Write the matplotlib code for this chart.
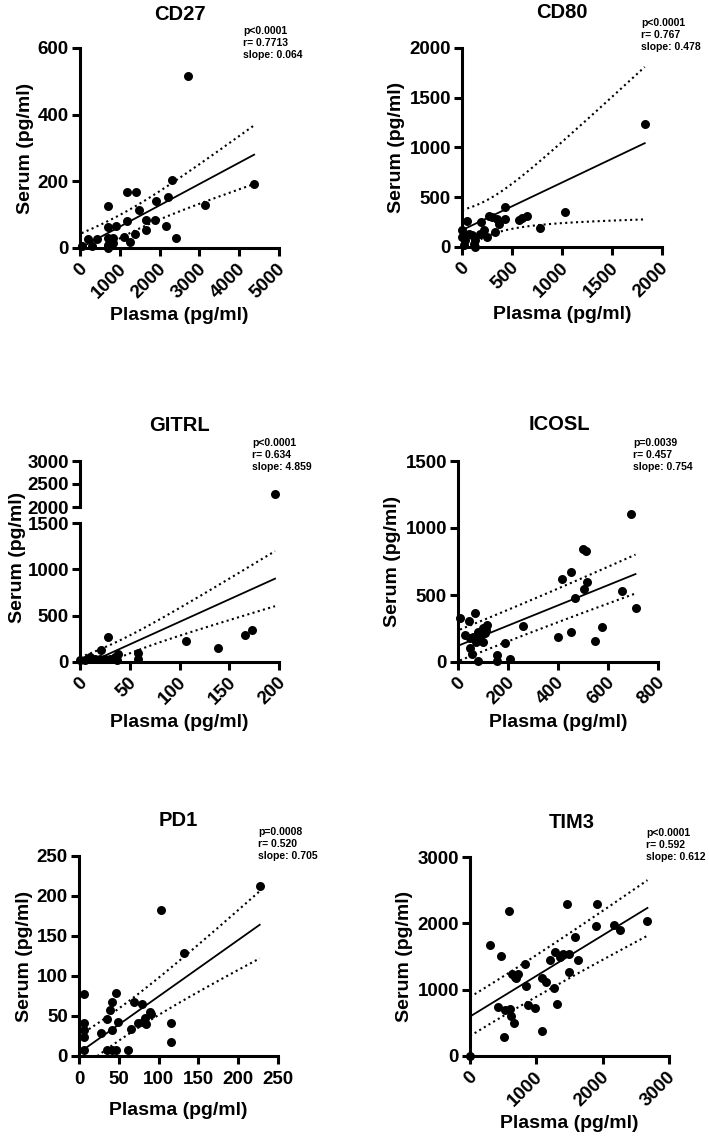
import matplotlib
matplotlib.use("Agg")
import matplotlib.pyplot as plt
import matplotlib.transforms as mtransforms
import numpy as np

plt.rcParams["font.family"] = ["Liberation Sans", "DejaVu Sans"]
plt.rcParams["font.weight"] = "bold"
plt.rcParams["axes.labelweight"] = "bold"

W, H = 709, 1143

# ---- data (plasma, serum in pg/ml) ----
cd27_plasma = [2708, 4375, 2317, 3142, 1192, 1400, 1917, 2208, 708, 1483, 1192, 1667, 1875, 1667,
               2150, 2417, 708, 917, 1375, 1100, 1267, 208, 417, 708, 833, 708, 833, 42, 292, 708]
cd27_serum = [515, 193, 204, 129, 168, 168, 140, 153, 126, 114, 82, 85, 85, 55,
              67, 31, 63, 65, 42, 34, 18, 26, 28, 30, 30, 10, 15, 5, 5, 0]

cd80_plasma = [1827, 1027, 783, 427, 433, 567, 600, 650, 267, 300, 350, 367, 193, 50, 333, 217,
               183, 250, 0, 67, 100, 0, 33, 133, 117, 133, 17]
cd80_serum = [1232, 356, 191, 403, 282, 268, 295, 309, 312, 302, 278, 235, 252, 262, 151, 168,
              134, 101, 168, 134, 117, 101, 67, 67, 34, 0, 17]

gitrl_plasma = [196, 172.5, 165.8, 139, 107, 28.5, 21, 58, 58, 38.5, 10, 15, 20, 25, 30, 35, 0, 5, 37]
gitrl_serum = [2283, 342, 288, 155, 227, 270, 133, 101, 36, 83, 54, 36, 36, 36, 36, 54, 18, 25, 18]

icosl_plasma = [690, 501, 513, 451, 415, 517, 504, 657, 466, 710, 261, 574, 398, 450, 548, 8, 42, 66,
                115, 100, 80, 60, 46, 93, 106, 113, 86, 73, 100, 27, 186, 56, 157, 206, 80, 157, 46]
icosl_serum = [1104, 845, 832, 673, 623, 598, 542, 530, 479, 403, 265, 260, 189, 222, 159, 330, 305, 366,
               277, 252, 227, 189, 176, 202, 214, 240, 164, 151, 151, 202, 144, 63, 50, 25, 8, 5, 101]

pd1_plasma = [227, 103, 132, 6.7, 47, 42, 39, 35, 48.5, 41, 27.6, 6.7, 6.7, 6.7, 69, 78.6, 91, 89,
              83, 81, 74, 84, 65, 116, 116, 6.7, 35, 41, 47, 61]
pd1_serum = [213, 182, 129, 78, 79, 67, 57, 46, 42, 32.5, 29, 41, 32, 24, 68, 65, 53, 55,
             48, 43, 41, 40, 34, 41, 17, 7, 7, 7, 7, 7]

tim3_plasma = [0, 510, 1085, 665, 625, 600, 525, 415, 875, 985, 1315, 850, 1085, 1150, 1260, 640, 675,
               725, 700, 825, 300, 465, 585, 1200, 1275, 1350, 1400, 1485, 1485, 1625, 1585, 1455,
               1915, 1900, 2165, 2260, 2675]
tim3_serum = [0, 288, 379, 500, 606, 707, 692, 732, 768, 717, 783, 1050, 1177, 1111, 1025, 1230, 1190,
              1240, 1180, 1389, 1667, 1515, 2187, 1454, 1566, 1500, 1540, 1540, 1273, 1454, 1788, 2288,
              2298, 1955, 1970, 1894, 2035]

# fitted line as printed /:
# slope, intercept, x of narrowest CI, narrowest CI half-width, CI half-width at highest plasma value
fits = {
    "CD27": (0.064, 0.0, 1000, 35, 88),
    "CD80": (0.478, 170, 200, 180, 766),
    "GITRL": (4.859, -53, 30, 90, 297),
    "ICOSL": (0.754, 121, 0, 115, 145),
    "PD1": (0.705, 4, 40, 20, 42),
    "TIM3": (0.612, 595, 0, 293, 419),
}

stats = {
    "CD27": ["p<0.0001", "r= 0.7713", "slope: 0.064"],
    "CD80": ["p<0.0001", "r= 0.767", "slope: 0.478"],
    "GITRL": ["p<0.0001", "r= 0.634", "slope: 4.859"],
    "ICOSL": ["p=0.0039", "r= 0.457", "slope: 0.754"],
    "PD1": ["p=0.0008", "r= 0.520", "slope: 0.705"],
    "TIM3": ["p<0.0001", "r= 0.592", "slope: 0.612"],
}


def px_rect(left, right, top, bottom):
    return [left / W, 1 - bottom / H, (right - left) / W, (bottom - top) / H]


def fit_lines(x, fit):
    slope, icpt, xv, h0, h1 = fit
    x = np.asarray(x, float)
    # hyperbolic confidence band: half = sqrt(h0^2 + B (x - xv)^2)
    B = (h1**2 - h0**2) / (x.max() - xv) ** 2
    xs = np.linspace(x.min(), x.max(), 200)
    yh = icpt + slope * xs
    half = np.sqrt(h0**2 + B * (xs - xv) ** 2)
    return xs, yh, yh - half, yh + half


def style(ax, show_bottom=True, xpad=2):
    for side in ("top", "right"):
        ax.spines[side].set_visible(False)
    ax.spines["left"].set_linewidth(2.2)
    ax.spines["bottom"].set_linewidth(2.2)
    if not show_bottom:
        ax.spines["bottom"].set_visible(False)
    ax.tick_params(width=2.2, length=6, labelsize=13.5, pad=2)
    ax.tick_params(axis="x", pad=xpad)
    for lab in ax.get_xticklabels() + ax.get_yticklabels():
        lab.set_fontweight("bold")


def dots(ax, x, y, ymin=-np.inf, ymax=np.inf):
    x = np.asarray(x, float)
    y = np.asarray(y, float)
    keep = (y >= ymin) & (y <= ymax)
    ax.scatter(x[keep], y[keep], s=42, color="black", zorder=3, clip_on=False, linewidths=0)


def draw(ax, x, y, fit, ymax=np.inf):
    xs, yh, lo, hi = fit_lines(x, fit)
    dots(ax, x, y, ymax=ymax)
    ax.plot(xs, yh, color="black", lw=1.3)
    for band in (lo, hi):
        ax.plot(xs, band, color="black", lw=1.5, linestyle=(0, (1, 1.6)))


def rotate_x(ax):
    shift = mtransforms.ScaledTranslation(4 / 100, 0, ax.figure.dpi_scale_trans)
    for lab in ax.get_xticklabels():
        lab.set_rotation(45)
        lab.set_ha("right")
        lab.set_va("center")
        lab.set_rotation_mode("anchor")
        lab.set_transform(lab.get_transform() + shift)


fig = plt.figure(figsize=(W / 100, H / 100), dpi=100)

panels = [
    ("CD27", cd27_plasma, cd27_serum, (80, 279, 48, 248), (0, 5000), [0, 1000, 2000, 3000, 4000, 5000],
     (0, 600), [0, 200, 400, 600], True, (243, 26)),
    ("CD80", cd80_plasma, cd80_serum, (462, 662, 48, 247), (0, 2000), [0, 500, 1000, 1500, 2000],
     (0, 2000), [0, 500, 1000, 1500, 2000], True, (641, 18)),
    ("ICOSL", icosl_plasma, icosl_serum, (458, 658, 461, 662), (0, 800), [0, 200, 400, 600, 800],
     (0, 1500), [0, 500, 1000, 1500], True, (633, 438)),
    ("PD1", pd1_plasma, pd1_serum, (79, 278, 856, 1056), (0, 250), [0, 50, 100, 150, 200, 250],
     (0, 250), [0, 50, 100, 150, 200, 250], False, (258, 827)),
    ("TIM3", tim3_plasma, tim3_serum, (470, 669, 857, 1056), (0, 3000), [0, 1000, 2000, 3000],
     (0, 3000), [0, 1000, 2000, 3000], True, (646, 828)),
]

title_pos = {"CD27": (180, 14), "CD80": (562, 13), "GITRL": (179, 425),
             "ICOSL": (559, 424), "PD1": (178, 821), "TIM3": (572, 822)}

for name, x, y, rect, xlim, xticks, ylim, yticks, rot, spos in panels:
    ax = fig.add_axes(px_rect(*rect))
    draw(ax, x, y, fits[name])
    ax.set_xlim(*xlim)
    ax.set_ylim(*ylim)
    ax.set_xticks(xticks)
    ax.set_yticks(yticks)
    style(ax, xpad=7 if rot else 5)
    if rot:
        rotate_x(ax)
    ax.set_xlabel("Plasma (pg/ml)", fontsize=14, labelpad=4 if rot else 10)
    ax.set_ylabel("Serum (pg/ml)", fontsize=14, labelpad=3)
    fig.text(spos[0] / W, 1 - spos[1] / H, "\n".join(stats[name]), fontsize=7.5,
             fontweight="bold", va="top", ha="left", linespacing=1.25)

# GITRL with a broken y axis: 0-1500 below, 2000-3000 above
ax_lo = fig.add_axes(px_rect(80, 279, 523, 662))
ax_hi = fig.add_axes(px_rect(80, 279, 461, 507), sharex=ax_lo)
draw(ax_lo, gitrl_plasma, gitrl_serum, fits["GITRL"], ymax=1500)
dots(ax_hi, gitrl_plasma, gitrl_serum, ymin=2000)
ax_lo.set_xlim(0, 200)
ax_lo.set_xticks([0, 50, 100, 150, 200])
ax_lo.set_ylim(0, 1500)
ax_lo.set_yticks([0, 500, 1000, 1500])
ax_hi.set_ylim(2000, 3000)
ax_hi.set_yticks([2000, 2500, 3000])
style(ax_lo, xpad=7)
style(ax_hi, show_bottom=False)
ax_hi.tick_params(axis="x", bottom=False, labelbottom=False)
rotate_x(ax_lo)
ax_lo.set_xlabel("Plasma (pg/ml)", fontsize=14, labelpad=4)
ax_lo.set_ylabel("Serum (pg/ml)", fontsize=14)
ax_lo.yaxis.set_label_coords(-0.27, 0.75)
fig.text(252 / W, 1 - 438 / H, "\n".join(stats["GITRL"]), fontsize=7.5,
         fontweight="bold", va="top", ha="left", linespacing=1.25)

for name, (tx, ty) in title_pos.items():
    fig.text(tx / W, 1 - ty / H, name, fontsize=14.5, fontweight="bold", ha="center", va="center")

fig.savefig("out.png", dpi=100)
